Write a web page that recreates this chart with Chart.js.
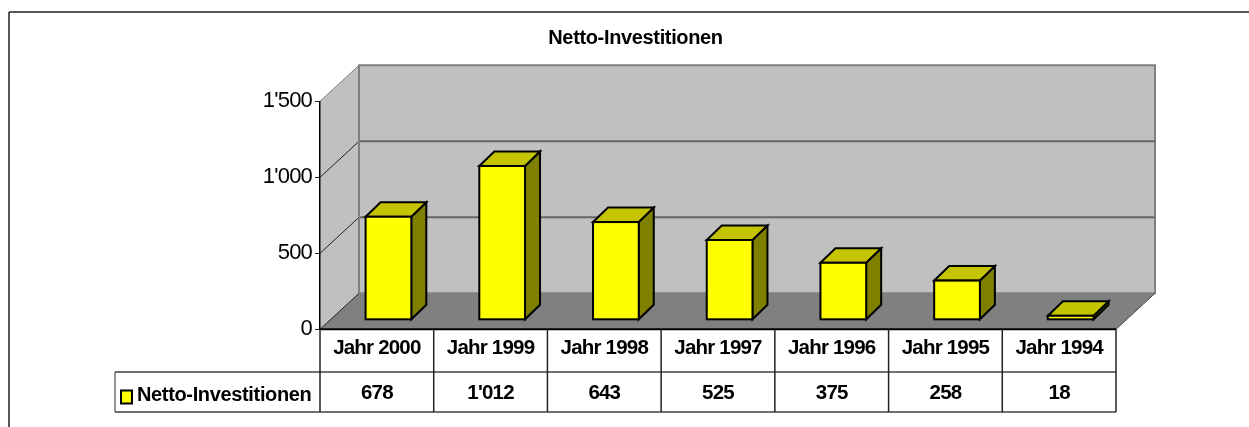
<!DOCTYPE html>
<html>
<head>
<meta charset="utf-8">
<title>Netto-Investitionen</title>
<script src="https://cdn.jsdelivr.net/npm/chart.js@4"></script>
<style>
    body { margin: 0; background: #fff; }
    #wrap { width: 1249px; height: 427px; }
</style>
</head>
<body>
<div id="wrap"><canvas id="chart" width="1249" height="427"></canvas></div>
<script>
const seriesName = 'Netto-Investitionen';
const years = ['Jahr 2000', 'Jahr 1999', 'Jahr 1998', 'Jahr 1997', 'Jahr 1996', 'Jahr 1995', 'Jahr 1994'];
const investments = [678, 1012, 643, 525, 375, 258, 18];
const yTicks = [0, 500, 1000, 1500];

// swiss thousands separator
const fmt = n => String(n).replace(/\B(?=(\d{3})+$)/g, "'");

const FONT = '"Liberation Sans", Arial, sans-serif';
const WALL_DX = 39, WALL_DY = -36;   // floor depth
const BAR_DX = 11.6, BAR_DY = -9.5;  // bars stand in the middle of the floor
const SIDE_DX = 15, SIDE_DY = -14.5; // depth of one bar

function poly(ctx, pts, fill, stroke, width) {
    ctx.beginPath();
    pts.forEach((p, i) => i ? ctx.lineTo(p[0], p[1]) : ctx.moveTo(p[0], p[1]));
    ctx.closePath();
    if (fill) { ctx.fillStyle = fill; ctx.fill(); }
    if (stroke) { ctx.strokeStyle = stroke; ctx.lineWidth = width; ctx.stroke(); }
}

function line(ctx, x1, y1, x2, y2, color, width) {
    ctx.beginPath();
    ctx.moveTo(x1, y1);
    ctx.lineTo(x2, y2);
    ctx.strokeStyle = color;
    ctx.lineWidth = width;
    ctx.stroke();
}

const box3d = {
    id: 'box3d',
    beforeDraw(chart) {
        const { ctx, chartArea: a, scales: { y } } = chart;
        ctx.letterSpacing = '-0.8px'; // the axis labels are set tight

        // frame, only top and left show
        ctx.save();
        line(ctx, 9, 12, 1249, 12, '#222', 1.5);
        line(ctx, 9, 12, 9, 427, '#222', 1.5);

        // title
        ctx.letterSpacing = '-0.35px';
        ctx.fillStyle = '#000';
        ctx.font = 'bold 20px ' + FONT;
        ctx.textAlign = 'center';
        ctx.textBaseline = 'middle';
        ctx.fillText(seriesName, 635.5, 38);

        const top = y.getPixelForValue(1500), bottom = y.getPixelForValue(0);

        // side wall, back wall, floor
        poly(ctx, [[a.left, top], [a.left + WALL_DX, top + WALL_DY], [a.left + WALL_DX, bottom + WALL_DY], [a.left, bottom]], '#C0C0C0');
        poly(ctx, [[a.left + WALL_DX, top + WALL_DY], [a.right + WALL_DX, top + WALL_DY], [a.right + WALL_DX, bottom + WALL_DY], [a.left + WALL_DX, bottom + WALL_DY]], '#C0C0C0', '#808080', 2);
        poly(ctx, [[a.left, bottom], [a.left + WALL_DX, bottom + WALL_DY], [a.right + WALL_DX, bottom + WALL_DY], [a.right, bottom]], '#808080');

        // gridlines over back and side wall
        yTicks.forEach(v => {
            const py = y.getPixelForValue(v);
            if (v > 0 && v < 1500) {
                line(ctx, a.left + WALL_DX, py + WALL_DY, a.right + WALL_DX, py + WALL_DY, '#666', 2);
            }
            line(ctx, a.left, py, a.left + WALL_DX, py + WALL_DY, v === 1500 ? '#808080' : '#222', 1);
        });
        line(ctx, a.left + WALL_DX, top + WALL_DY, a.left + WALL_DX, bottom + WALL_DY, '#808080', 2);
        line(ctx, a.right, bottom, a.right + WALL_DX, bottom + WALL_DY, '#444', 1);
        ctx.restore();
    },
    beforeDatasetsDraw(chart) {
        const { ctx } = chart;
        ctx.save();
        ctx.translate(BAR_DX, BAR_DY);
        chart.getDatasetMeta(0).data.forEach(bar => {
            const l = bar.x - bar.width / 2, r = bar.x + bar.width / 2;
            const t = bar.y, b = bar.base;
            poly(ctx, [[r, t], [r + SIDE_DX, t + SIDE_DY], [r + SIDE_DX, b + SIDE_DY], [r, b]], '#808000', '#000', 2);
            poly(ctx, [[l, t], [l + SIDE_DX, t + SIDE_DY], [r + SIDE_DX, t + SIDE_DY], [r, t]], '#C4C400', '#000', 2);
        });
    },
    afterDatasetsDraw(chart) {
        const { ctx } = chart;
        // outline sits on the bar edge, so it grows 1px outwards
        ctx.strokeStyle = '#000';
        ctx.lineWidth = 2;
        chart.getDatasetMeta(0).data.forEach(bar => {
            ctx.strokeRect(bar.x - bar.width / 2, bar.y, bar.width, bar.base - bar.y);
        });
        ctx.restore();
    },
    afterDraw(chart) {
        const { ctx, chartArea: a, scales: { x } } = chart;
        const rowTop = a.bottom, rowMid = 372, rowEnd = 412, legendLeft = 115;
        ctx.save();

        // data table under the plot
        line(ctx, a.left, rowTop, a.right, rowTop, '#000', 2);
        line(ctx, legendLeft, rowMid, a.right, rowMid, '#707070', 2);
        line(ctx, legendLeft, rowEnd, a.right, rowEnd, '#707070', 2);
        line(ctx, legendLeft, rowMid, legendLeft, rowEnd, '#707070', 1.5);
        const half = (x.getPixelForTick(1) - x.getPixelForTick(0)) / 2;
        line(ctx, a.left, rowTop, a.left, rowEnd, '#222', 1.5);
        years.forEach((_, i) => line(ctx, x.getPixelForTick(i) + half, rowTop, x.getPixelForTick(i) + half, rowEnd, '#222', 1.5));

        // legend key + series name
        ctx.fillStyle = '#FFFF00';
        ctx.strokeStyle = '#000';
        ctx.lineWidth = 2;
        ctx.fillRect(121, 390.5, 11, 13);
        ctx.strokeRect(121, 390.5, 11, 13);
        ctx.letterSpacing = '-0.35px';
        ctx.fillStyle = '#000';
        ctx.font = 'bold 20px ' + FONT;
        ctx.textAlign = 'left';
        ctx.textBaseline = 'middle';
        ctx.fillText(seriesName, 137, 395);
        ctx.restore();
    }
};

new Chart(document.getElementById('chart'), {
    type: 'bar',
    data: {
        labels: years,
        datasets: [{
            label: seriesName,
            data: investments,
            backgroundColor: '#FFFF00',
            borderWidth: 0,
            barPercentage: 0.402,
            categoryPercentage: 1,
            minBarLength: 4,
            clip: false
        }]
    },
    plugins: [box3d],
    options: {
        responsive: false,
        animation: false,
        layout: { padding: { left: 0, right: 133, top: 101.3, bottom: 0 } },
        plugins: {
            legend: { display: false },
            tooltip: { enabled: false }
        },
        scales: {
            x: {
                grid: { display: false },
                border: { display: false },
                afterFit: s => { s.height = 97.7; },
                ticks: {
                    color: '#000',
                    font: { family: FONT, size: 20.5, weight: 'bold', lineHeight: 45 / 20.5 },
                    padding: -11.5,
                    maxRotation: 0,
                    autoSkip: false,
                    callback(value, i) { return [years[i], fmt(investments[i])]; }
                }
            },
            y: {
                min: 0,
                max: 1500,
                grid: { drawOnChartArea: false, color: '#222', tickLength: 5 },
                border: { display: true, color: '#000', width: 1.5 },
                afterFit: s => { s.width = 320; },
                ticks: {
                    stepSize: 500,
                    color: '#000',
                    font: { family: FONT, size: 22 },
                    padding: 3,
                    callback: v => fmt(v)
                }
            }
        }
    }
});
</script>
</body>
</html>
